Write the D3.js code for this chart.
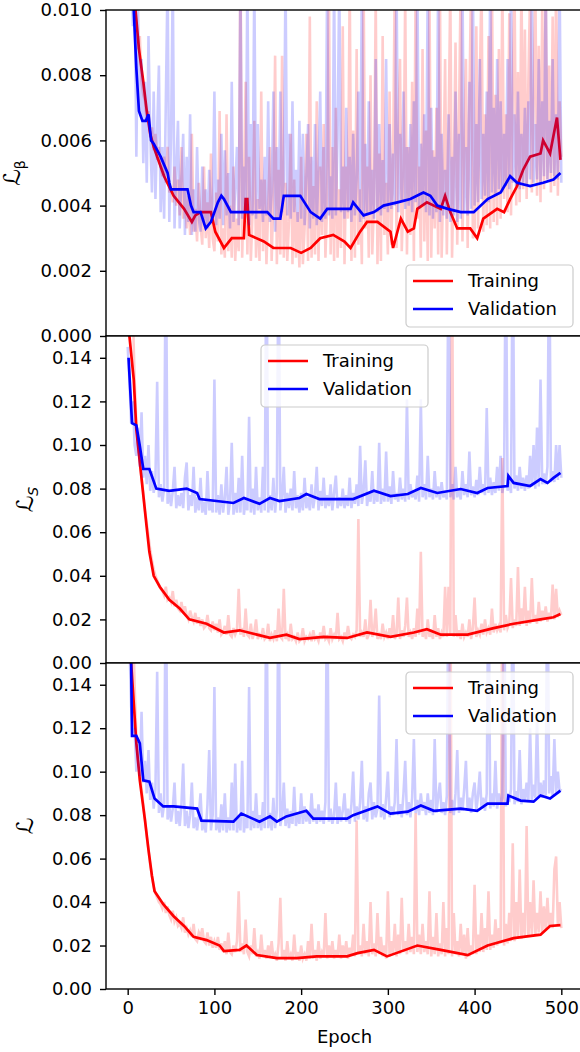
<!DOCTYPE html>
<html lang="en">
<head>
<meta charset="UTF-8">
<title>Loss curves</title>
<style>
  body { margin: 0; background: #fff; }
  svg text { font-family: "DejaVu Sans", sans-serif; fill: #000; }
</style>
</head>
<body>
<svg id="chart" width="580" height="1052"></svg>
<script src="https://cdn.jsdelivr.net/npm/d3@7"></script>
<script>
// raw per-epoch losses, read every 2 epochs (one row = 10 epochs)
const epochs = d3.range(0, 501, 2);

const trainBetaRaw = [
  .02,.018,.015,.012,.0105, .0095,.0088,.0092,.0078,.0074,
  .0072,.0066,.0069,.0061,.0064, .0057,.0062,.0054,.0058,.0052,
  .0049,.0055,.0047,.0058,.0044, .0046,.0041,.0052,.004,.0048,
  .0037,.0058,.0036,.0045,.0033, .0043,.0031,.0062,.0032,.0039,
  .0029,.0047,.0034,.0028,.0052, .003,.0041,.0027,.0056,.003,
  .0026,.0044,.0029,.0069,.0025, .0033,.0024,.0068,.0026,.004,
  .0024,.0052,.0023,.0036,.0026, .012,.0024,.0045,.0078,.0025,
  .0055,.0023,.0038,.0066,.0024, .0042,.0023,.0075,.0026,.0048,
  .0022,.0039,.0058,.0023,.0044, .0086,.0022,.0051,.0025,.0086,
  .0024,.0047,.0023,.0035,.0062, .0022,.0048,.0024,.0038,.0021,
  .0055,.0022,.0033,.0062,.0023, .0098,.0024,.0046,.0025,.0072,
  .0023,.0052,.0031,.0065,.0024, .0041,.011,.0025,.0058,.0023,
  .007,.0024,.0045,.0027,.0095, .0022,.0052,.0036,.011,.0023,
  .0063,.0024,.0088,.0028,.0045, .0022,.011,.0033,.0052,.0024,
  .008,.0025,.0041,.0105,.0022, .0056,.0023,.0092,.0031,.0047,
  .0025,.0075,.0028,.0053,.011, .0027,.0062,.0085,.0026,.0044,
  .0105,.0025,.0058,.0031,.0078, .0023,.011,.0036,.0052,.0024,
  .0088,.0029,.0063,.0023,.0105, .0024,.0057,.0033,.007,.0025,
  .011,.0024,.0048,.0085,.0025, .0062,.0108,.0024,.0051,.009,
  .0028,.0066,.011,.0029,.0058, .0085,.0027,.0072,.011,.003,
  .0031,.0095,.0033,.0077,.011, .0032,.0068,.0034,.0092,.0033,
  .011,.0035,.0074,.0034,.0088, .0036,.011,.0042,.0068,.0038,
  .0099,.0037,.0076,.011,.004, .0081,.0041,.011,.0045,.0094,
  .0042,.0078,.0106,.0044,.0071, .011,.0043,.0089,.0041,.0102,
  .0045,.011,.0048,.0083,.0044, .0098,.0046,.011,.0043,.0072,
  .0055];
const valBetaRaw = [
  .02,.016,.012,.0095,.011, .0055,.01,.0068,.0085,.0053,
  .0078,.0047,.0092,.0062,.0044, .0075,.0042,.0063,.0083,.0038,
  .0058,.0036,.0072,.011,.0035, .0061,.011,.0033,.0052,.0066,
  .0033,.0048,.0062,.0031,.0055, .0035,.0068,.0031,.0045,.0032,
  .0058,.0036,.0032,.0052,.0034, .0045,.0033,.0051,.0035,.0041,
  .0075,.0034,.0048,.0036,.0062, .0034,.0057,.0037,.005,.0033,
  .0078,.0035,.0045,.0058,.0034, .011,.0036,.0052,.0038,.011,
  .0034,.0065,.0037,.011,.0036, .0065,.0039,.0048,.0035,.0055,
  .0037,.0072,.0035,.0044,.0075, .0032,.0058,.0036,.0075,.0038,
  .0048,.011,.0037,.0062,.0036, .0072,.0038,.0051,.0035,.0066,
  .0036,.0062,.0034,.0049,.0065, .0033,.0055,.0036,.0065,.0034,
  .0051,.0075,.0035,.0058,.0036, .011,.0037,.0049,.0036,.011,
  .0037,.0061,.011,.0038,.0052, .0036,.007,.0038,.0055,.0035,
  .0062,.0037,.0048,.0075,.0035, .011,.0036,.0059,.0037,.0072,
  .0038,.0051,.0036,.0085,.0038, .0065,.0037,.0054,.0039,.0085,
  .0038,.0065,.0039,.0056,.004, .011,.0038,.0062,.0041,.0075,
  .0039,.0058,.004,.0065,.0038, .0072,.0041,.011,.0039,.0059,
  .004,.0068,.0038,.011,.0037, .007,.0036,.0055,.0038,.011,
  .0035,.0062,.0037,.0051,.0036, .0068,.0035,.0055,.0037,.0075,
  .0035,.0062,.0036,.011,.0038, .0058,.0037,.0078,.0039,.011,
  .004,.0065,.0041,.0085,.0042, .0062,.0043,.0075,.0041,.011,
  .0044,.007,.0043,.0085,.0045, .0072,.0044,.0062,.0046,.0085,
  .0045,.011,.0047,.0068,.0046, .0075,.0045,.0062,.0047,.007,
  .0046,.0072,.0048,.011,.0047, .0065,.0048,.0085,.0047,.0072,
  .0049,.011,.0048,.0066,.005, .0085,.0049,.0068,.0048,.011,
  .0047];
const trainSRaw = [
  .3,.25,.2,.16,.13, .11,.1,.092,.085,.078,
  .07,.064,.058,.052,.047, .043,.04,.038,.036,.034,
  .033,.031,.035,.029,.03, .028,.033,.026,.029,.025,
  .024,.028,.023,.026,.022, .02,.024,.021,.019,.023,
  .018,.021,.017,.02,.016, .017,.022,.016,.015,.019,
  .015,.018,.014,.02,.013, .014,.017,.013,.022,.013,
  .012,.016,.013,.015,.034, .013,.016,.012,.025,.013,
  .012,.018,.011,.014,.02, .011,.013,.012,.016,.011,
  .012,.018,.01,.013,.011, .015,.01,.025,.012,.011,
  .034,.011,.013,.01,.018, .011,.012,.01,.014,.01,
  .011,.016,.01,.012,.011, .013,.01,.015,.011,.012,
  .01,.014,.011,.017,.011, .012,.01,.016,.011,.013,
  .011,.023,.011,.012,.01, .014,.011,.017,.012,.011,
  .013,.012,.015,.066,.012, .014,.012,.02,.011,.013,
  .029,.012,.015,.025,.011, .013,.011,.018,.012,.014,
  .011,.016,.012,.022,.011, .013,.03,.011,.015,.012,
  .017,.03,.012,.014,.011, .016,.012,.025,.013,.051,
  .012,.015,.011,.02,.012, .014,.011,.022,.012,.016,
  .011,.014,.012,.035,.012, .035,.013,.2,.012,.022,
  .012,.015,.011,.018,.012, .014,.012,.02,.011,.016,
  .03,.012,.015,.013,.018, .013,.02,.014,.016,.013,
  .025,.014,.018,.015,.017, .014,.094,.015,.022,.016,
  .018,.039,.016,.02,.017, .044,.017,.025,.018,.035,
  .017,.024,.018,.039,.019, .022,.018,.028,.019,.024,
  .02,.026,.019,.023,.02, .036,.02,.034,.021,.024,
  .022];
const valSRaw = [
  .145,.13,.11,.12,.1, .095,.108,.09,.115,.085,
  .095,.082,.1,.079,.088, .078,.085,.129,.076,.082,
  .074,.08,.2,.073,.078, .072,.079,.09,.071,.077,
  .072,.078,.071,.085,.092, .07,.077,.072,.09,.069,
  .076,.07,.085,.069,.074, .068,.088,.07,.074,.069,
  .13,.069,.077,.068,.082, .069,.076,.09,.068,.074,
  .101,.068,.078,.069,.085, .069,.095,.068,.075,.07,
  .113,.069,.08,.068,.09, .07,.076,.069,.09,.07,
  .2,.069,.077,.07,.085, .069,.078,.2,.07,.076,
  .09,.069,.078,.071,.08, .07,.088,.071,.077,.069,
  .078,.07,.085,.071,.076, .07,.082,.071,.077,.09,
  .07,.079,.072,.085,.071, .077,.072,.082,.07,.078,
  .086,.071,.076,.072,.08, .071,.077,.072,.085,.071,
  .078,.073,.082,.072,.0996, .073,.079,.093,.072,.078,
  .074,.088,.073,.079,.074, .101,.073,.08,.074,.097,
  .074,.081,.073,.088,.075, .078,.074,.085,.075,.08,
  .074,.121,.075,.082,.076, .079,.075,.086,.074,.121,
  .076,.082,.075,.095,.076, .08,.075,.088,.076,.081,
  .075,.083,.076,.079,.075, .2,.076,.082,.075,.09,
  .076,.08,.075,.088,.077, .082,.076,.097,.077,.081,
  .076,.084,.077,.09,.078, .082,.077,.117,.078,.085,
  .077,.083,.078,.09,.079, .095,.078,.084,.2,.079,
  .083,.078,.2,.08,.086, .079,.09,.08,.085,.079,
  .086,.08,.095,.081,.1, .08,.108,.081,.13,.082,
  .087,.082,.09,.2,.083, .088,.083,.1,.084,.1,
  .085];
const trainLRaw = [
  .3,.25,.2,.17,.14, .115,.105,.1,.092,.085,
  .078,.07,.064,.057,.052, .047,.044,.042,.04,.039,
  .037,.04,.035,.038,.034, .032,.036,.031,.033,.029,
  .03,.028,.033,.026,.028, .025,.027,.024,.03,.023,
  .022,.026,.024,.028,.022, .021,.026,.02,.024,.019,
  .022,.019,.024,.018,.021, .017,.022,.016,.026,.017,
  .016,.02,.017,.022,.045, .017,.021,.016,.032,.017,
  .015,.02,.016,.028,.015, .017,.014,.025,.015,.018,
  .014,.02,.015,.022,.014, .016,.013,.021,.042,.014,
  .018,.013,.022,.014,.016, .013,.025,.014,.017,.013,
  .02,.014,.016,.013,.022, .014,.03,.014,.018,.013,
  .022,.014,.017,.015,.035, .014,.02,.015,.022,.014,
  .018,.015,.025,.014,.02, .015,.022,.014,.019,.016,
  .025,.015,.0775,.016,.02, .015,.03,.016,.022,.015,
  .04,.016,.021,.015,.035, .016,.024,.015,.02,.014,
  .045,.015,.022,.016,.03, .015,.025,.016,.042,.017,
  .022,.016,.03,.017,.024, .016,.081,.017,.025,.016,
  .03,.017,.022,.016,.045, .015,.024,.016,.035,.015,
  .021,.016,.04,.015,.028, .016,.2,.015,.035,.016,
  .022,.015,.03,.016,.025, .014,.028,.015,.02,.016,
  .048,.016,.025,.017,.035, .017,.028,.018,.045,.018,
  .025,.019,.032,.02,.028, .021,.2,.02,.03,.021,
  .035,.022,.067,.022,.04, .023,.055,.023,.035,.024,
  .075,.024,.04,.025,.05, .025,.035,.026,.045,.026,
  .038,.027,.042,.028,.035, .028,.055,.061,.029,.04,
  .028];
const valLRaw = [
  .19,.16,.13,.118,.12, .1,.115,.098,.1275,.095,
  .105,.09,.11,.087,.095, .083,.092,.146,.081,.09,
  .079,.085,.2,.078,.084, .077,.083,.095,.076,.082,
  .075,.085,.1037,.075,.082, .074,.08,.095,.074,.079,
  .073,.08,.09,.073,.078, .072,.085,.11,.073,.08,
  .139,.073,.079,.072,.085, .073,.09,.072,.079,.073,
  .095,.073,.1037,.072,.08, .073,.105,.072,.079,.074,
  .139,.073,.082,.074,.09, .074,.08,.073,.086,.074,
  .2,.074,.081,.073,.088, .074,.082,.2,.075,.08,
  .095,.075,.083,.074,.082, .076,.093,.075,.081,.076,
  .09,.076,.084,.077,.082, .076,.09,.077,.083,.076,
  .085,.077,.082,.076,.086, .2,.077,.083,.076,.08,
  .095,.076,.084,.077,.082, .09,.077,.083,.076,.085,
  .1,.077,.084,.078,.086, .105,.078,.084,.077,.09,
  .095,.078,.086,.079,.083, .135,.079,.085,.078,.088,
  .1,.079,.084,.08,.086, .115,.08,.085,.079,.09,
  .105,.08,.086,.079,.088, .115,.081,.087,.08,.09,
  .082,.086,.08,.09,.081, .087,.08,.115,.081,.088,
  .095,.081,.086,.08,.089, .2,.081,.087,.08,.09,
  .11,.081,.088,.082,.092, .105,.082,.088,.081,.09,
  .095,.082,.089,.1,.083, .088,.082,.09,.2,.083,
  .09,.084,.105,.083,.09, .085,.088,.2,.084,.09,
  .086,.092,.2,.085,.091, .086,.11,.085,.092,.087,
  .095,.086,.12,.087,.094, .088,.125,.088,.095,.088,
  .096,.089,.2,.09,.098, .089,.115,.09,.1,.091,
  .092];

// running averages as [epoch, value]
const trainBetaAvg = [[1,.03],[5,.013],[9,.010],[13,.0088],[18,.0078],[22,.0069],[26,.0062],[30,.0058],[34,.0055],[42,.0049],[53,.0043],[65,.0039],[74,.0035],[78,.0037],[84,.0038],[96,.0038],[101,.0032],[111,.0027],[120,.0030],[134,.0030],[136,.0042],[138,.0042],[140,.0031],[157,.0029],[168,.0027],[188,.0027],[200,.00255],[211,.0027],[222,.0030],[237,.0031],[250,.0029],[257,.0027],[268,.0032],[276,.0035],[288,.0035],[303,.0032],[306,.0027],[315,.0036],[323,.0032],[330,.0033],[334,.0039],[345,.0041],[361,.0039],[366,.0043],[372,.0038],[380,.0033],[387,.0033],[395,.0033],[403,.0030],[410,.0036],[426,.0039],[434,.0038],[441,.0042],[449,.0046],[456,.0051],[464,.0055],[476,.0056],[479,.006],[487,.0056],[495,.0067],[499,.0054]];
const valBetaAvg = [[1,.03],[7,.010],[10,.0082],[13,.0069],[17,.0066],[21,.0066],[24,.0068],[27,.006],[30,.0059],[34,.0057],[38,.0055],[46,.005],[48,.0047],[50,.0045],[60,.0045],[69,.0045],[73,.004],[76,.0038],[84,.0038],[90,.0033],[96,.0035],[104,.0041],[108,.0043],[111,.0042],[119,.0038],[161,.0038],[168,.0036],[176,.0036],[180,.0043],[199,.0043],[211,.0038],[222,.0036],[230,.0039],[245,.0039],[257,.0039],[260,.0041],[272,.0037],[284,.0038],[295,.0040],[311,.0041],[326,.0042],[341,.0044],[349,.0043],[357,.0040],[369,.0039],[384,.0038],[399,.0038],[415,.0042],[430,.0044],[441,.0049],[449,.0047],[464,.0046],[479,.0047],[491,.0048],[499,.0050]];
const trainSAvg = [[0,.2],[2,.15],[7,.13],[10,.107],[14,.092],[18,.077],[22,.062],[25,.051],[30,.040],[37,.035],[48,.029],[60,.025],[71,.020],[91,.018],[111,.014],[129,.015],[149,.013],[164,.0115],[183,.013],[198,.011],[226,.012],[253,.0115],[276,.014],[303,.012],[330,.014],[345,.0155],[361,.013],[392,.013],[422,.016],[445,.018],[476,.020],[491,.021],[499,.0225]];
const valSAvg = [[1,.140],[3,.125],[5,.110],[10,.109],[14,.0995],[18,.089],[25,.089],[33,.080],[48,.079],[68,.080],[80,.078],[83,.0752],[122,.0734],[134,.0757],[152,.073],[164,.0757],[175,.0743],[198,.0757],[206,.0775],[221,.0752],[260,.0752],[284,.079],[303,.0766],[323,.0775],[338,.0803],[357,.078],[384,.0798],[403,.078],[415,.0803],[438,.0812],[439,.0858],[445,.0826],[464,.0812],[476,.0844],[484,.0826],[491,.0849],[499,.0872]];
const trainLAvg = [[0,.25],[4,.15],[10,.113],[14,.096],[20,.0775],[24,.064],[28,.052],[31,.045],[41,.039],[53,.0335],[65,.029],[76,.024],[91,.0225],[106,.020],[111,.0174],[129,.018],[137,.020],[149,.0156],[172,.0142],[195,.0142],[218,.015],[253,.015],[265,.0165],[284,.018],[299,.015],[334,.020],[361,.018],[392,.0156],[415,.020],[445,.0234],[476,.025],[487,.029],[499,.0294]];
const valLAvg = [[1,.19],[4,.15],[5,.1165],[10,.1165],[14,.113],[18,.096],[25,.0954],[31,.0876],[41,.084],[53,.084],[80,.083],[85,.0775],[122,.077],[131,.0807],[152,.077],[164,.0794],[172,.077],[183,.0794],[206,.082],[214,.0784],[253,.0784],[260,.080],[288,.084],[303,.0807],[323,.0816],[338,.0844],[353,.082],[384,.083],[403,.082],[415,.0853],[438,.0853],[439,.089],[453,.0867],[468,.0862],[476,.089],[487,.0876],[499,.0913]];

const betaTicks = [0, .002, .004, .006, .008, .010];
const lossTicks = [0, .02, .04, .06, .08, .10, .12, .14];
const epochTicks = [0, 100, 200, 300, 400, 500];
const seriesNames = ["Training", "Validation"];

const panels = [
  { train: trainBetaRaw, val: valBetaRaw, trainAvg: trainBetaAvg, valAvg: valBetaAvg,
    domain: [0, .01], ticks: betaTicks, fmt: ".3f", top: 10, bottom: 336,
    label: "ℒ", sub: "β", subItalic: false, labelX: 20, legend: [406, 265] },
  { train: trainSRaw, val: valSRaw, trainAvg: trainSAvg, valAvg: valSAvg,
    domain: [0, .15], ticks: lossTicks, fmt: ".2f", top: 336, bottom: 663,
    label: "ℒ", sub: "S", subItalic: true, labelX: 33, legend: [261, 345] },
  { train: trainLRaw, val: valLRaw, trainAvg: trainLAvg, valAvg: valLAvg,
    domain: [0, .15], ticks: lossTicks, fmt: ".2f", top: 663, bottom: 989,
    label: "ℒ", sub: null, labelX: 33, legend: [406, 672] }
];

const left = 106, right = 583;
const red = "#ff0000", blue = "#0000ff";
const svg = d3.select("#chart");
const x = d3.scaleLinear().domain([-25, 525]).range([left, right]);

panels.forEach((p, i) => {
  const y = d3.scaleLinear().domain(p.domain).range([p.bottom, p.top]);
  const g = svg.append("g");

  g.append("rect").attr("x", left).attr("y", p.top)
    .attr("width", right - left).attr("height", p.bottom - p.top).attr("fill", "#fff");

  g.append("clipPath").attr("id", "clip" + i)
    .append("rect").attr("x", left).attr("y", p.top)
    .attr("width", right - left).attr("height", p.bottom - p.top);

  const plot = g.append("g").attr("clip-path", `url(#clip${i})`);
  const rawLine = d3.line().x((d, j) => x(epochs[j])).y(d => y(d));
  const avgLine = d3.line().x(d => x(d[0])).y(d => y(d[1]));

  plot.append("path").datum(p.train).attr("d", rawLine)
    .attr("fill", "none").attr("stroke", red).attr("stroke-opacity", 0.2).attr("stroke-width", 2.6);
  plot.append("path").datum(p.trainAvg).attr("d", avgLine)
    .attr("fill", "none").attr("stroke", red).attr("stroke-width", 2.7);
  plot.append("path").datum(p.val).attr("d", rawLine)
    .attr("fill", "none").attr("stroke", blue).attr("stroke-opacity", 0.2).attr("stroke-width", 2.6);
  plot.append("path").datum(p.valAvg).attr("d", avgLine)
    .attr("fill", "none").attr("stroke", blue).attr("stroke-width", 2.7);

  const yAxis = g.append("g").attr("transform", `translate(${left},0)`)
    .call(d3.axisLeft(y).tickValues(p.ticks).tickFormat(d3.format(p.fmt)).tickSize(6).tickPadding(8));
  yAxis.select(".domain").remove();
  yAxis.selectAll("line").attr("stroke", "#000").attr("stroke-width", 1.4);
  yAxis.selectAll("text").attr("font-size", 18).attr("font-family", "DejaVu Sans");

  // spines
  g.append("rect").attr("x", left).attr("y", p.top)
    .attr("width", right - left).attr("height", p.bottom - p.top)
    .attr("fill", "none").attr("stroke", "#000").attr("stroke-width", 1.4);

  // y label
  const yMid = (p.top + p.bottom) / 2;
  const lab = g.append("text")
    .attr("transform", `translate(${p.labelX},${yMid}) rotate(-90)`)
    .attr("text-anchor", "middle").attr("font-size", 23);
  lab.append("tspan").attr("font-style", "italic").text(p.label);
  if (p.sub) {
    lab.append("tspan").attr("font-size", 14).attr("dy", 5)
      .attr("font-style", p.subItalic ? "italic" : "normal").text(p.sub);
  }

  // legend
  const [lx, ly] = p.legend;
  const leg = g.append("g").attr("transform", `translate(${lx},${ly})`);
  leg.append("rect").attr("width", 167).attr("height", 62).attr("rx", 4)
    .attr("fill", "#fff").attr("fill-opacity", 0.8).attr("stroke", "#cccccc").attr("stroke-width", 1.2);
  seriesNames.forEach((name, k) => {
    const cy = 16 + k * 28;
    leg.append("line").attr("x1", 7).attr("x2", 47).attr("y1", cy).attr("y2", cy)
      .attr("stroke", k === 0 ? red : blue).attr("stroke-width", 2.7);
    leg.append("text").attr("x", 62).attr("y", cy).attr("dy", "0.35em")
      .attr("font-size", 18).text(name);
  });
});

// shared x axis on bottom panel
const last = panels[panels.length - 1];
const xAxis = svg.append("g").attr("transform", `translate(0,${last.bottom})`)
  .call(d3.axisBottom(x).tickValues(epochTicks).tickSize(6).tickPadding(6));
xAxis.select(".domain").remove();
xAxis.selectAll("line").attr("stroke", "#000").attr("stroke-width", 1.4);
xAxis.selectAll("text").attr("font-size", 18).attr("font-family", "DejaVu Sans");

svg.append("text").attr("x", (left + right) / 2).attr("y", 1043)
  .attr("text-anchor", "middle").attr("font-size", 18).text("Epoch");
</script>
</body>
</html>
